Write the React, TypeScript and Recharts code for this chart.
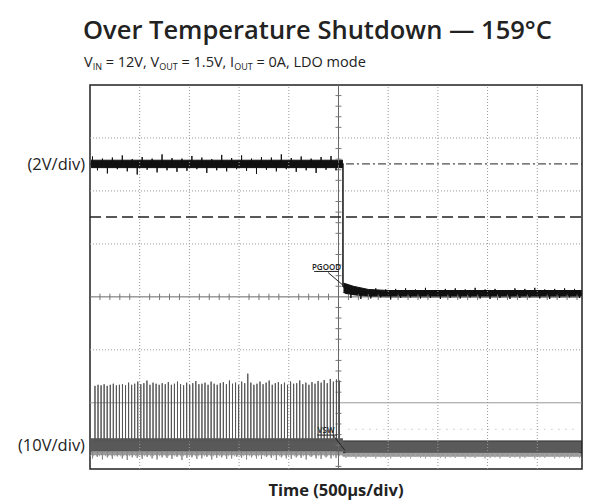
import React from 'react';
import { ComposedChart, Line, Area, XAxis, YAxis, ReferenceLine, ReferenceArea, ReferenceDot, Label } from 'recharts';

const FONT = "'Open Sans', 'Noto Sans', sans-serif";

// axis ranges in scope divisions (0,0 = screen centre)
const X_MIN = -5;
const X_MAX = 4.9;
const Y_MIN = -3.25;
const Y_MAX = 4;

const xGrid = [-4, -3, -2, -1, 1, 2, 3, 4];
const yGrid = [-3, -1, 1, 2, 3];

const channelLevels = [2.51, -2.8];
const channelLabels = ['(2V/div)', '(10V/div)'];

// PGOOD (2V/div)
const pgoodTime = [-4.98, 0.09, 0.09, 0.18, 0.35, 0.7, 4.9];
const pgoodLevel = [2.51, 2.51, 0.2, 0.15, 0.1, 0.06, 0.06];
const pgoodBandPreTime = [-4.98, 0.09];
const pgoodBandPreLow = [2.44, 2.44];
const pgoodBandPreHigh = [2.58, 2.58];
const pgoodBandPostTime = [0.1, 0.3, 0.6, 1.0, 4.9];
const pgoodBandPostLow = [0.08, 0.04, 0.01, 0.0, 0.0];
const pgoodBandPostHigh = [0.26, 0.2, 0.14, 0.12, 0.12];
const pgoodNoisePre = [0.14, -0.12, 0.1, -0.18, 0.12, -0.1, 0.16, -0.14, 0.09, -0.2, 0.13, -0.11, 0.1, -0.16, 0.18, -0.12, 0.11, -0.15, 0.1, -0.13, 0.15, -0.1, 0.12, -0.17, 0.09, -0.12, 0.17, -0.14, 0.11, -0.1, 0.16, -0.13, 0.1, -0.19, 0.13, -0.11, 0.12, -0.14, 0.18, -0.1, 0.11, -0.15, 0.14, -0.12, 0.1, -0.17, 0.13, -0.11, 0.15, -0.12];
const pgoodNoisePost = [0.1, -0.08, 0.09, -0.1, 0.07, -0.09, 0.1, -0.07, 0.08, -0.11, 0.09, -0.08, 0.1, -0.07, 0.08, -0.09, 0.11, -0.08, 0.07, -0.1, 0.09, -0.08, 0.1, -0.09, 0.08, -0.07, 0.11, -0.09, 0.08, -0.1, 0.09, -0.08, 0.07, -0.1, 0.1, -0.08, 0.09, -0.07, 0.11, -0.09, 0.08, -0.1, 0.09, -0.08, 0.1, -0.07, 0.09, -0.08];

// VSW (10V/div)
const vswBandPreTime = [-4.98, 0.09];
const vswBandPreLow = [-2.91, -2.91];
const vswBandPreHigh = [-2.68, -2.68];
const vswBandPostTime = [0.09, 4.9];
const vswBandPostLow = [-2.94, -2.94];
const vswBandPostHigh = [-2.72, -2.72];
const vswShadePreLow = [-2.99, -2.99];
const vswShadePostLow = [-3.02, -3.02];
const vswSpikeTips = [
  -1.68, -1.66, -1.67, -1.65, -1.68, -1.66, -1.64, -1.67, -1.66, -1.65,
  -1.67, -1.62, -1.66, -1.64, -1.6, -1.65, -1.63, -1.58, -1.66, -1.62,
  -1.64, -1.66, -1.63, -1.65, -1.61, -1.66, -1.64, -1.6, -1.65, -1.67,
  -1.62, -1.66, -1.63, -1.59, -1.65, -1.64, -1.62, -1.66, -1.6, -1.64,
  -1.66, -1.63, -1.61, -1.65, -1.58, -1.64, -1.62, -1.66, -1.6, -1.63,
  -1.45, -1.62, -1.66, -1.64, -1.6, -1.65, -1.62, -1.58, -1.66, -1.63,
  -1.61, -1.65, -1.62, -1.66, -1.6, -1.64, -1.63, -1.58, -1.65, -1.62,
  -1.66, -1.61, -1.64, -1.59, -1.62, -1.57, -1.63, -1.55, -1.6, -1.56,
  -1.58,
];
const vswLowTipsPre = [-3.05, -3.02, -3.07, -3.03, -3.06, -3.01, -3.05, -3.08, -3.03, -3.04, -3.06, -3.02, -3.05, -3.07, -3.03, -3.04, -3.06, -3.02, -3.08, -3.04, -3.03, -3.06, -3.05, -3.02, -3.07, -3.04, -3.03, -3.06, -3.05, -3.02, -3.04, -3.07, -3.03, -3.05, -3.06, -3.02, -3.04, -3.08, -3.03, -3.05, -3.06, -3.03, -3.04, -3.07, -3.02, -3.05, -3.06, -3.03, -3.05, -3.04];
const vswLowTipsPost = [-3.04, -3.02, -3.05, -3.03, -3.04, -3.02, -3.05, -3.03, -3.04, -3.05, -3.02, -3.04, -3.03, -3.05, -3.02, -3.04, -3.05, -3.03, -3.02, -3.04, -3.05, -3.03, -3.04, -3.02, -3.05, -3.03, -3.04, -3.02, -3.05, -3.04, -3.03, -3.05, -3.02, -3.04, -3.03, -3.05, -3.04, -3.02, -3.05, -3.03, -3.04, -3.02, -3.05, -3.03, -3.04, -3.05, -3.02, -3.04];

const minorX: number[] = [];
for (let i = -24; i <= 24; i++) if (i % 5 !== 0) minorX.push(i / 5);
const minorY: number[] = [];
for (let i = -16; i <= 19; i++) if (i % 5 !== 0) minorY.push(i / 5);

const toPoints = (t: number[], v: number[]) => t.map((x, i) => ({ x, y: v[i] }));
const toBand = (t: number[], lo: number[], hi: number[]) => t.map((x, i) => ({ x, y: [lo[i], hi[i]] }));
// vertical hairs: base -> tip -> base
const hairs = (x0: number, step: number, base: number, tips: number[]) =>
  tips.flatMap((tip, i) => {
    const x = x0 + i * step;
    return [{ x, y: base }, { x, y: tip }, { x, y: base }];
  });

const pgoodLine = toPoints(pgoodTime, pgoodLevel);
const pgoodBandPre = toBand(pgoodBandPreTime, pgoodBandPreLow, pgoodBandPreHigh);
const pgoodBandPost = toBand(pgoodBandPostTime, pgoodBandPostLow, pgoodBandPostHigh);
const pgoodHairsPre = hairs(-4.95, 0.1, 2.51, pgoodNoisePre.map(o => 2.51 + o));
const pgoodHairsPost = hairs(0.15, 0.1, 0.06, pgoodNoisePost.map(o => 0.06 + o));

const vswBandPre = toBand(vswBandPreTime, vswBandPreLow, vswBandPreHigh);
const vswBandPost = toBand(vswBandPostTime, vswBandPostLow, vswBandPostHigh);
const vswShadePre = toBand(vswBandPreTime, vswShadePreLow, vswBandPreLow);
const vswShadePost = toBand(vswBandPostTime, vswShadePostLow, vswBandPostLow);
const vswSpikes = hairs(-4.9, 0.0615, -2.72, vswSpikeTips);
const vswLowPre = hairs(-4.95, 0.1, -2.92, vswLowTipsPre);
const vswLowPost = hairs(0.15, 0.1, -2.95, vswLowTipsPost);

const tinyLabel = { fontSize: 8, fill: '#222', fontFamily: FONT, fontWeight: 600 };

export default function App() {
  return (
    <div style={{ position: 'absolute', left: 0, top: 0, width: 590, height: 500, background: '#fff' }}>
      <svg width={590} height={80} style={{ position: 'absolute', left: 0, top: 0 }}>
        <text x={83} y={39} fontSize={25.5} fontWeight={600} fontFamily={FONT} fill="#222">
          Over Temperature Shutdown — 159°C
        </text>
        <text x={84} y={67} fontSize={14.5} fontFamily={FONT} fill="#222">
          V<tspan dy={3} fontSize={9}>IN</tspan>
          <tspan dy={-3}> = 12V, V</tspan>
          <tspan dy={3} fontSize={9}>OUT</tspan>
          <tspan dy={-3}> = 1.5V, I</tspan>
          <tspan dy={3} fontSize={9}>OUT</tspan>
          <tspan dy={-3}> = 0A, LDO mode</tspan>
        </text>
      </svg>
      <ComposedChart width={590} height={500} margin={{ top: 85, right: 8, bottom: 0, left: 0 }} style={{ position: 'absolute', left: 0, top: 0 }}>
        <XAxis
          type="number"
          dataKey="x"
          domain={[X_MIN, X_MAX]}
          allowDataOverflow
          tick={false}
          tickLine={false}
          axisLine={false}
          height={31}
        >
          <Label value="Time (500µs/div)" position="insideBottom" offset={4} style={{ fontSize: 16.5, fontWeight: 700, fill: '#222', fontFamily: FONT }} />
        </XAxis>
        <YAxis
          type="number"
          dataKey="y"
          domain={[Y_MIN, Y_MAX]}
          allowDataOverflow
          ticks={channelLevels}
          tickFormatter={(v: number) => channelLabels[channelLevels.indexOf(v)]}
          tick={{ fontSize: 16.5, fill: '#222', fontFamily: FONT }}
          tickLine={false}
          axisLine={false}
          tickSize={0}
          tickMargin={5}
          width={90}
          interval={0}
        />

        {xGrid.map(x => (
          <ReferenceLine key={'gx' + x} x={x} stroke="#999" strokeDasharray="1 2" />
        ))}
        {yGrid.map(y => (
          <ReferenceLine key={'gy' + y} y={y} stroke="#999" strokeDasharray="1 2" />
        ))}
        <ReferenceLine y={-2} stroke="#999" />
        <ReferenceLine x={0} stroke="#666" />
        <ReferenceLine y={0} stroke="#666" />
        {minorX.map(x => (
          <ReferenceLine key={'mx' + x} segment={[{ x, y: -0.06 }, { x, y: 0.06 }]} stroke="#777" />
        ))}
        {minorY.map(y => (
          <ReferenceLine key={'my' + y} segment={[{ x: -0.06, y }, { x: 0.06, y }]} stroke="#777" />
        ))}
        <ReferenceLine y={2.51} stroke="#222" strokeDasharray="8 3 2 3" />
        <ReferenceLine y={1.51} stroke="#222" strokeWidth={1.5} strokeDasharray="11 5" />
        <ReferenceLine segment={[{ x: 0.2, y: -2.5 }, { x: 4.85, y: -2.5 }]} stroke="#aaa" strokeDasharray="1 6" />

        {/* VSW channel */}
        <Area data={vswShadePre} dataKey="y" stroke="none" fill="#9a9a9a" fillOpacity={1} isAnimationActive={false} />
        <Area data={vswShadePost} dataKey="y" stroke="none" fill="#9a9a9a" fillOpacity={1} isAnimationActive={false} />
        <Line data={vswLowPre} dataKey="y" stroke="#8a8a8a" strokeWidth={1} dot={false} activeDot={false} isAnimationActive={false} />
        <Line data={vswLowPost} dataKey="y" stroke="#a5a5a5" strokeWidth={1} dot={false} activeDot={false} isAnimationActive={false} />
        <Line data={vswSpikes} dataKey="y" stroke="#555" strokeWidth={1} dot={false} activeDot={false} isAnimationActive={false} />
        <Area data={vswBandPre} dataKey="y" stroke="#555" strokeWidth={1} fill="#595959" fillOpacity={1} isAnimationActive={false} />
        <Area data={vswBandPost} dataKey="y" stroke="#333" strokeWidth={1} fill="#5a5a5a" fillOpacity={1} isAnimationActive={false} />

        {/* PGOOD channel */}
        <Line data={pgoodHairsPre} dataKey="y" stroke="#111" strokeWidth={1} dot={false} activeDot={false} isAnimationActive={false} />
        <Line data={pgoodHairsPost} dataKey="y" stroke="#111" strokeWidth={1} dot={false} activeDot={false} isAnimationActive={false} />
        <Area data={pgoodBandPre} dataKey="y" stroke="#111" fill="#111" fillOpacity={1} isAnimationActive={false} />
        <Area data={pgoodBandPost} dataKey="y" stroke="#111" fill="#111" fillOpacity={1} isAnimationActive={false} />
        <Line data={pgoodLine} dataKey="y" stroke="#111" strokeWidth={1.5} dot={false} activeDot={false} isAnimationActive={false} />

        {/* trace labels */}
        <ReferenceDot x={-0.24} y={0.56} r={0} fill="none" stroke="none" label={{ value: 'PGOOD', position: 'center', style: tinyLabel }} />
        <ReferenceLine segment={[{ x: -0.49, y: 0.48 }, { x: 0.01, y: 0.48 }]} stroke="#222" />
        <ReferenceLine segment={[{ x: -0.21, y: 0.46 }, { x: 0.09, y: 0.22 }]} stroke="#222" />
        <ReferenceDot x={-0.25} y={-2.51} r={0} fill="none" stroke="none" label={{ value: 'VSW', position: 'center', style: tinyLabel }} />
        <ReferenceLine segment={[{ x: -0.43, y: -2.61 }, { x: -0.03, y: -2.61 }]} stroke="#222" />
        <ReferenceLine segment={[{ x: -0.11, y: -2.61 }, { x: 0.13, y: -2.9 }]} stroke="#222" />

        <ReferenceArea x1={X_MIN} x2={X_MAX} y1={Y_MIN} y2={Y_MAX} fill="none" stroke="#222" strokeWidth={1.5} />
      </ComposedChart>
    </div>
  );
}
